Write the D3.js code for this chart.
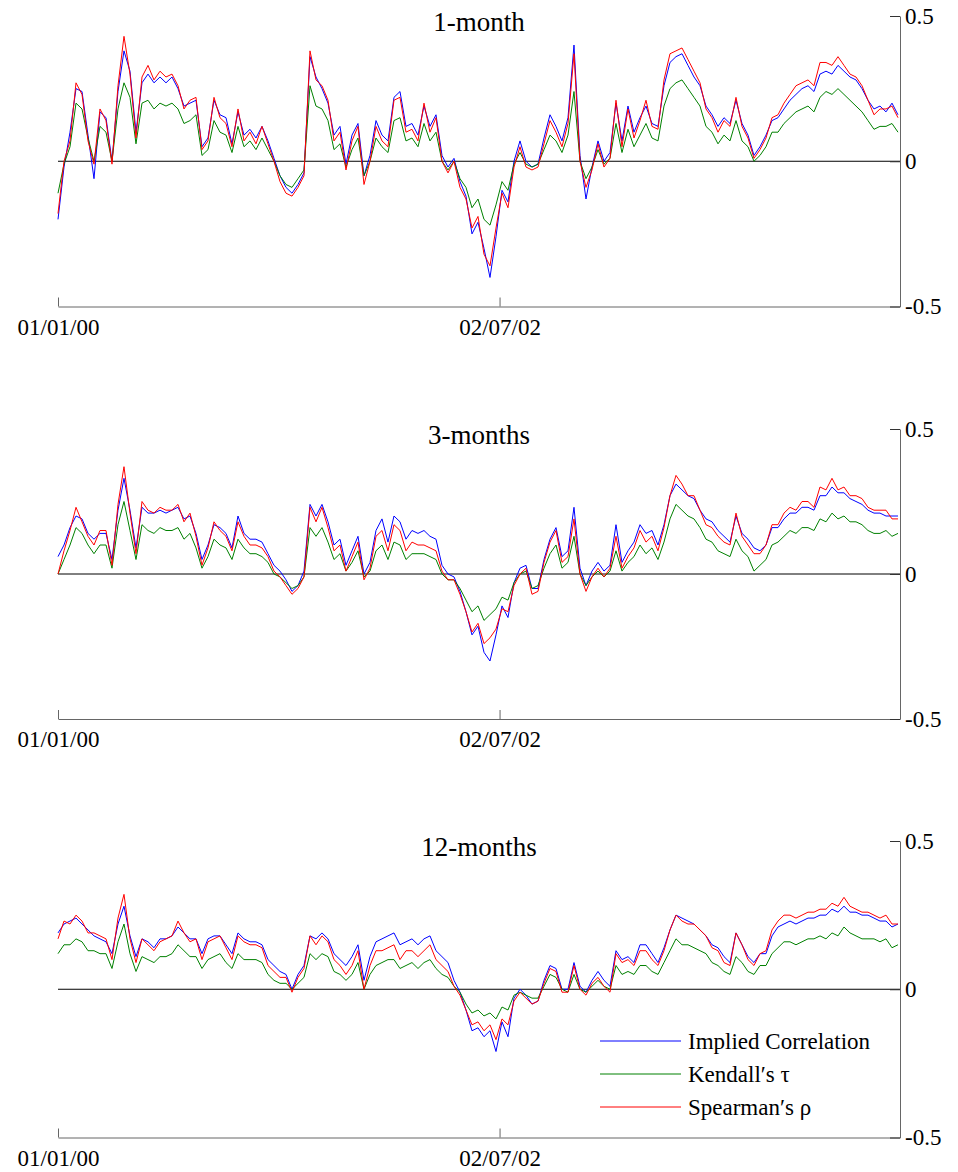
<!DOCTYPE html>
<html>
<head>
<meta charset="utf-8">
<script src="https://cdn.jsdelivr.net/npm/d3@7"></script>
<style>
  body { margin: 0; background: #fff; }
  text { font-family: "Liberation Serif", "Times New Roman", serif; fill: #000; }
</style>
</head>
<body>
<svg id="chart" width="958" height="1172"></svg>
<script>
// sampled every ~12.4 days from 01/01/00
const startDate = "01/01/00"
const endDate = "07/10/04"
const stepDays = 12.406

const panelTitles = ["1-month", "3-months", "12-months"]
const tickDates = ["01/01/00", "02/07/02"]
const yTicks = [-0.5, 0, 0.5]
const seriesNames = ["Implied Correlation", "Kendall\u2032s \u03c4", "Spearman\u2032s \u03c1"]
const seriesColors = ["#0000ff", "#008000", "#ff0000"]

// 1-month
const implied1 = [
  -0.20,-0.02,0.10,0.25,0.24,0.09,-0.06,0.17,0.15,0.00, 0.24,0.38,0.31,0.10,0.27,0.30,0.27,0.29,0.27,0.29,
  0.25,0.19,0.20,0.21,0.05,0.08,0.21,0.16,0.15,0.06, 0.17,0.09,0.11,0.08,0.12,0.07,0.01,-0.05,-0.09,-0.11,
  -0.08,-0.04,0.36,0.29,0.25,0.20,0.09,0.12,-0.01,0.09, 0.13,-0.05,0.02,0.14,0.09,0.07,0.22,0.24,0.12,0.13,
  0.09,0.19,0.12,0.16,0.02,-0.02,0.01,-0.07,-0.12,-0.25, -0.21,-0.30,-0.40,-0.26,-0.10,-0.14,0.00,0.07,0.00,-0.02,
  -0.01,0.08,0.16,0.12,0.07,0.15,0.40,0.02,-0.13,-0.02, 0.07,0.00,0.03,0.20,0.07,0.19,0.10,0.15,0.19,0.13,
  0.12,0.26,0.34,0.36,0.37,0.33,0.29,0.26,0.19,0.16, 0.12,0.15,0.13,0.21,0.13,0.09,0.02,0.05,0.09,0.14,
  0.15,0.18,0.21,0.23,0.25,0.26,0.24,0.30,0.31,0.30, 0.33,0.31,0.29,0.28,0.25,0.21,0.18,0.19,0.17,0.20,
  0.16
]
const kendall1 = [
  -0.11,-0.01,0.05,0.20,0.18,0.08,0.00,0.12,0.10,0.00, 0.18,0.27,0.22,0.06,0.20,0.21,0.18,0.20,0.19,0.20,
  0.18,0.13,0.14,0.16,0.02,0.04,0.14,0.10,0.09,0.03, 0.12,0.05,0.07,0.04,0.08,0.04,0.00,-0.05,-0.08,-0.09,
  -0.06,-0.03,0.26,0.19,0.18,0.14,0.04,0.06,-0.02,0.04, 0.08,-0.05,0.00,0.08,0.05,0.03,0.14,0.15,0.07,0.08,
  0.05,0.13,0.07,0.10,0.00,-0.03,0.00,-0.06,-0.09,-0.16, -0.13,-0.20,-0.22,-0.15,-0.07,-0.10,-0.01,0.03,-0.01,-0.02,
  -0.01,0.04,0.09,0.07,0.03,0.09,0.24,0.00,-0.06,-0.02, 0.04,-0.01,0.01,0.13,0.03,0.11,0.05,0.09,0.13,0.08,
  0.07,0.19,0.25,0.27,0.28,0.25,0.22,0.19,0.12,0.10, 0.06,0.09,0.07,0.14,0.07,0.05,0.00,0.02,0.05,0.10,
  0.10,0.13,0.15,0.17,0.18,0.19,0.17,0.22,0.24,0.23, 0.25,0.23,0.21,0.19,0.17,0.14,0.11,0.12,0.12,0.13,
  0.10
]
const spearman1 = [
  -0.18,0.00,0.07,0.27,0.23,0.07,-0.01,0.18,0.14,-0.01, 0.26,0.43,0.30,0.08,0.29,0.33,0.28,0.31,0.29,0.30,
  0.26,0.18,0.21,0.22,0.04,0.07,0.22,0.15,0.13,0.05, 0.18,0.07,0.10,0.06,0.12,0.06,0.00,-0.07,-0.11,-0.12,
  -0.09,-0.05,0.38,0.28,0.26,0.21,0.07,0.10,-0.03,0.07, 0.12,-0.08,0.00,0.12,0.07,0.05,0.21,0.22,0.10,0.11,
  0.07,0.20,0.10,0.15,0.00,-0.04,0.00,-0.09,-0.13,-0.23, -0.19,-0.32,-0.36,-0.23,-0.11,-0.16,-0.02,0.05,-0.02,-0.03,
  -0.02,0.06,0.14,0.10,0.05,0.13,0.37,0.00,-0.09,-0.03, 0.06,-0.02,0.01,0.21,0.05,0.18,0.08,0.14,0.21,0.12,
  0.11,0.28,0.37,0.38,0.39,0.35,0.31,0.27,0.18,0.15, 0.10,0.14,0.12,0.22,0.12,0.08,0.01,0.04,0.08,0.15,
  0.16,0.20,0.23,0.26,0.27,0.28,0.26,0.34,0.34,0.33, 0.36,0.33,0.30,0.29,0.26,0.21,0.16,0.18,0.18,0.19,
  0.15
]

// 3-months
const implied3 = [
  0.06,0.10,0.16,0.20,0.19,0.14,0.12,0.14,0.14,0.05, 0.22,0.33,0.22,0.09,0.23,0.21,0.21,0.22,0.21,0.22,
  0.23,0.19,0.20,0.14,0.05,0.10,0.17,0.16,0.14,0.09, 0.20,0.14,0.12,0.12,0.11,0.07,0.03,0.01,-0.02,-0.06,
  -0.04,0.01,0.24,0.20,0.24,0.18,0.10,0.12,0.03,0.08, 0.13,0.00,0.04,0.15,0.19,0.11,0.20,0.18,0.12,0.15,
  0.14,0.15,0.13,0.12,0.03,0.00,-0.01,-0.06,-0.13,-0.21, -0.18,-0.27,-0.30,-0.21,-0.11,-0.15,-0.03,0.02,0.03,-0.05,
  -0.05,0.05,0.12,0.16,0.06,0.08,0.23,0.02,-0.04,0.01, 0.04,0.01,0.03,0.17,0.04,0.08,0.11,0.17,0.14,0.15,
  0.10,0.17,0.27,0.31,0.29,0.27,0.26,0.22,0.19,0.18, 0.15,0.13,0.11,0.20,0.14,0.12,0.09,0.08,0.10,0.16,
  0.16,0.19,0.21,0.21,0.23,0.23,0.22,0.27,0.27,0.30, 0.28,0.28,0.26,0.25,0.24,0.22,0.21,0.21,0.20,0.20,
  0.20
]
const kendall3 = [
  0.00,0.05,0.10,0.16,0.14,0.10,0.07,0.10,0.10,0.02, 0.17,0.25,0.15,0.05,0.17,0.15,0.14,0.16,0.15,0.15,
  0.16,0.12,0.14,0.09,0.02,0.06,0.12,0.10,0.09,0.05, 0.12,0.09,0.07,0.07,0.06,0.04,0.00,-0.01,-0.03,-0.05,
  -0.04,-0.01,0.16,0.13,0.16,0.11,0.05,0.07,0.01,0.04, 0.08,-0.01,0.01,0.08,0.10,0.05,0.11,0.10,0.05,0.07,
  0.07,0.07,0.06,0.05,0.00,-0.02,-0.02,-0.05,-0.09,-0.13, -0.11,-0.16,-0.14,-0.12,-0.08,-0.09,-0.03,0.00,0.01,-0.05,
  -0.04,0.02,0.07,0.10,0.02,0.04,0.13,0.00,-0.04,-0.01, 0.01,-0.01,0.01,0.08,0.01,0.04,0.06,0.10,0.07,0.09,
  0.05,0.11,0.19,0.24,0.22,0.20,0.19,0.16,0.12,0.11, 0.08,0.07,0.06,0.12,0.08,0.06,0.01,0.03,0.05,0.10,
  0.11,0.13,0.15,0.14,0.16,0.16,0.15,0.19,0.18,0.21, 0.19,0.20,0.18,0.18,0.17,0.15,0.14,0.14,0.15,0.13,
  0.14
]
const spearman3 = [
  0.00,0.08,0.15,0.23,0.18,0.13,0.10,0.15,0.15,0.03, 0.24,0.37,0.21,0.07,0.25,0.22,0.21,0.23,0.22,0.22,
  0.24,0.18,0.21,0.13,0.03,0.09,0.18,0.15,0.13,0.08, 0.18,0.13,0.10,0.10,0.09,0.06,0.01,-0.01,-0.04,-0.07,
  -0.05,-0.01,0.23,0.18,0.23,0.16,0.08,0.10,0.01,0.06, 0.11,-0.02,0.02,0.13,0.15,0.08,0.17,0.15,0.08,0.11,
  0.10,0.10,0.09,0.08,0.01,-0.02,-0.02,-0.07,-0.13,-0.20, -0.17,-0.24,-0.22,-0.19,-0.12,-0.13,-0.04,0.00,0.02,-0.07,
  -0.06,0.04,0.11,0.15,0.04,0.06,0.19,0.00,-0.06,-0.01, 0.02,-0.01,0.02,0.13,0.02,0.06,0.09,0.15,0.11,0.13,
  0.08,0.16,0.27,0.34,0.31,0.27,0.27,0.22,0.17,0.16, 0.13,0.11,0.10,0.21,0.13,0.10,0.07,0.07,0.10,0.17,
  0.17,0.21,0.23,0.22,0.25,0.25,0.23,0.30,0.29,0.33, 0.29,0.30,0.27,0.27,0.26,0.23,0.22,0.22,0.22,0.19,
  0.19
]

// 12-months
const implied12 = [
  0.19,0.22,0.23,0.24,0.22,0.20,0.18,0.17,0.16,0.12, 0.22,0.28,0.18,0.11,0.17,0.16,0.14,0.17,0.17,0.18,
  0.21,0.19,0.17,0.17,0.12,0.17,0.18,0.18,0.15,0.12, 0.19,0.17,0.16,0.16,0.15,0.10,0.08,0.06,0.05,0.00,
  0.05,0.08,0.18,0.17,0.19,0.17,0.12,0.10,0.08,0.11, 0.15,0.03,0.11,0.16,0.17,0.18,0.19,0.15,0.16,0.17,
  0.15,0.17,0.18,0.13,0.11,0.09,0.03,-0.01,-0.07,-0.14, -0.13,-0.16,-0.14,-0.21,-0.11,-0.16,-0.03,0.00,-0.02,-0.05,
  -0.04,0.03,0.08,0.07,0.00,0.00,0.09,0.01,-0.01,0.03, 0.06,0.03,0.01,0.13,0.10,0.11,0.09,0.15,0.15,0.12,
  0.09,0.14,0.20,0.25,0.24,0.23,0.22,0.20,0.18,0.15, 0.14,0.11,0.09,0.19,0.15,0.11,0.09,0.12,0.12,0.18,
  0.21,0.22,0.23,0.22,0.23,0.24,0.24,0.25,0.25,0.27, 0.26,0.28,0.26,0.26,0.25,0.25,0.24,0.23,0.23,0.21,
  0.22
]
const kendall12 = [
  0.12,0.15,0.15,0.17,0.16,0.13,0.13,0.12,0.12,0.07, 0.16,0.22,0.12,0.06,0.11,0.10,0.09,0.11,0.11,0.12,
  0.15,0.13,0.11,0.11,0.07,0.10,0.11,0.12,0.09,0.07, 0.12,0.10,0.10,0.10,0.09,0.05,0.03,0.02,0.02,0.00,
  0.02,0.04,0.12,0.10,0.12,0.11,0.06,0.05,0.03,0.05, 0.09,0.00,0.05,0.08,0.09,0.10,0.10,0.07,0.08,0.09,
  0.07,0.09,0.10,0.07,0.05,0.04,0.01,-0.01,-0.05,-0.08, -0.07,-0.09,-0.08,-0.10,-0.06,-0.07,-0.02,-0.01,-0.02,-0.03,
  -0.03,0.01,0.05,0.04,0.00,-0.01,0.05,0.00,-0.01,0.01, 0.03,0.01,0.00,0.08,0.05,0.06,0.05,0.08,0.08,0.06,
  0.05,0.09,0.13,0.17,0.15,0.15,0.14,0.13,0.12,0.09, 0.08,0.06,0.05,0.11,0.09,0.06,0.05,0.08,0.08,0.12,
  0.14,0.16,0.16,0.15,0.16,0.17,0.17,0.18,0.17,0.19, 0.18,0.21,0.19,0.18,0.17,0.17,0.17,0.16,0.17,0.14,
  0.15
]
const spearman12 = [
  0.17,0.23,0.22,0.25,0.23,0.19,0.19,0.18,0.17,0.10, 0.24,0.32,0.17,0.09,0.17,0.15,0.13,0.16,0.17,0.18,
  0.23,0.19,0.16,0.17,0.10,0.16,0.17,0.18,0.14,0.10, 0.18,0.16,0.15,0.15,0.14,0.08,0.06,0.04,0.04,-0.01,
  0.04,0.07,0.18,0.15,0.18,0.16,0.10,0.08,0.05,0.08, 0.13,0.00,0.08,0.13,0.13,0.14,0.15,0.10,0.13,0.13,
  0.11,0.13,0.15,0.10,0.08,0.06,0.01,-0.02,-0.07,-0.12, -0.11,-0.14,-0.12,-0.17,-0.10,-0.12,-0.04,-0.01,-0.03,-0.05,
  -0.04,0.02,0.07,0.06,-0.01,-0.01,0.08,0.00,-0.02,0.02, 0.04,0.01,-0.01,0.12,0.09,0.10,0.08,0.13,0.13,0.10,
  0.08,0.13,0.20,0.25,0.23,0.22,0.22,0.20,0.18,0.14, 0.13,0.09,0.08,0.19,0.15,0.10,0.08,0.12,0.13,0.20,
  0.23,0.25,0.25,0.24,0.25,0.26,0.26,0.27,0.27,0.29, 0.28,0.31,0.28,0.27,0.26,0.26,0.25,0.24,0.25,0.22,
  0.22
]

const panels = [
  { title: panelTitles[0], series: [implied1, kendall1, spearman1], top: 16, bottom: 306.5 },
  { title: panelTitles[1], series: [implied3, kendall3, spearman3], top: 429, bottom: 719 },
  { title: panelTitles[2], series: [implied12, kendall12, spearman12], top: 841, bottom: 1137.5 }
]

const parseDate = d3.timeParse("%d/%m/%y")
const t0 = parseDate(startDate)
const sampleDate = i => new Date(t0.getTime() + i * stepDays * 864e5)

const left = 58, right = 900

const x = d3.scaleTime()
  .domain([t0, parseDate(endDate)])
  .range([left, right])

const svg = d3.select("#chart")

panels.forEach((p, pi) => {
  const y = d3.scaleLinear().domain([-0.5, 0.5]).range([p.bottom, p.top])
  const g = svg.append("g")

  // zero line
  g.append("line")
    .attr("x1", left).attr("x2", right)
    .attr("y1", y(0)).attr("y2", y(0))
    .attr("stroke", "#000").attr("stroke-width", 1)

  const line = d3.line()
    .x((d, i) => x(sampleDate(i)))
    .y(d => y(d))

  p.series.forEach((s, si) => {
    g.append("path")
      .datum(s)
      .attr("fill", "none")
      .attr("stroke", seriesColors[si])
      .attr("stroke-width", 1)
      .attr("stroke-linejoin", "round")
      .attr("d", line)
  })

  // bottom axis, ticks point up
  const xAxis = d3.axisBottom(x)
    .tickValues(tickDates.map(parseDate))
    .tickFormat(d3.timeFormat("%d/%m/%y"))
    .tickSizeInner(-9)
    .tickSizeOuter(0)
    .tickPadding(12)
  const xg = g.append("g")
    .attr("transform", "translate(0," + y(-0.5) + ")")
    .call(xAxis)
  xg.select(".domain").attr("stroke", "#666")
  xg.selectAll(".tick line").attr("stroke", "#666")
  xg.selectAll("text")
    .attr("font-size", 23)
    .attr("font-family", "Liberation Serif")
    .attr("fill", "#000")

  // right axis, ticks point in
  const yAxis = d3.axisRight(y)
    .tickValues(yTicks)
    .tickFormat(d => d === 0 ? "0" : String(d))
    .tickSizeInner(-10)
    .tickSizeOuter(0)
    .tickPadding(5)
  const yg = g.append("g")
    .attr("transform", "translate(" + right + ",0)")
    .call(yAxis)
  yg.select(".domain").attr("stroke", "#666")
  yg.selectAll(".tick line").attr("stroke", "#333")
  yg.selectAll("text")
    .attr("font-size", 23)
    .attr("font-family", "Liberation Serif")
    .attr("fill", "#000")

  g.append("text")
    .attr("x", (left + right) / 2)
    .attr("y", p.top + 15)
    .attr("text-anchor", "middle")
    .attr("font-size", 27)
    .text(p.title)
})

// legend in the last panel
const legend = svg.append("g").attr("transform", "translate(600,1041)")
seriesNames.forEach((name, i) => {
  const row = legend.append("g").attr("transform", "translate(0," + i * 33 + ")")
  row.append("line")
    .attr("x1", 0).attr("x2", 81)
    .attr("stroke", seriesColors[i]).attr("stroke-width", 1)
  row.append("text")
    .attr("x", 88).attr("y", 8)
    .attr("font-size", 23)
    .text(name)
})
</script>
</body>
</html>
